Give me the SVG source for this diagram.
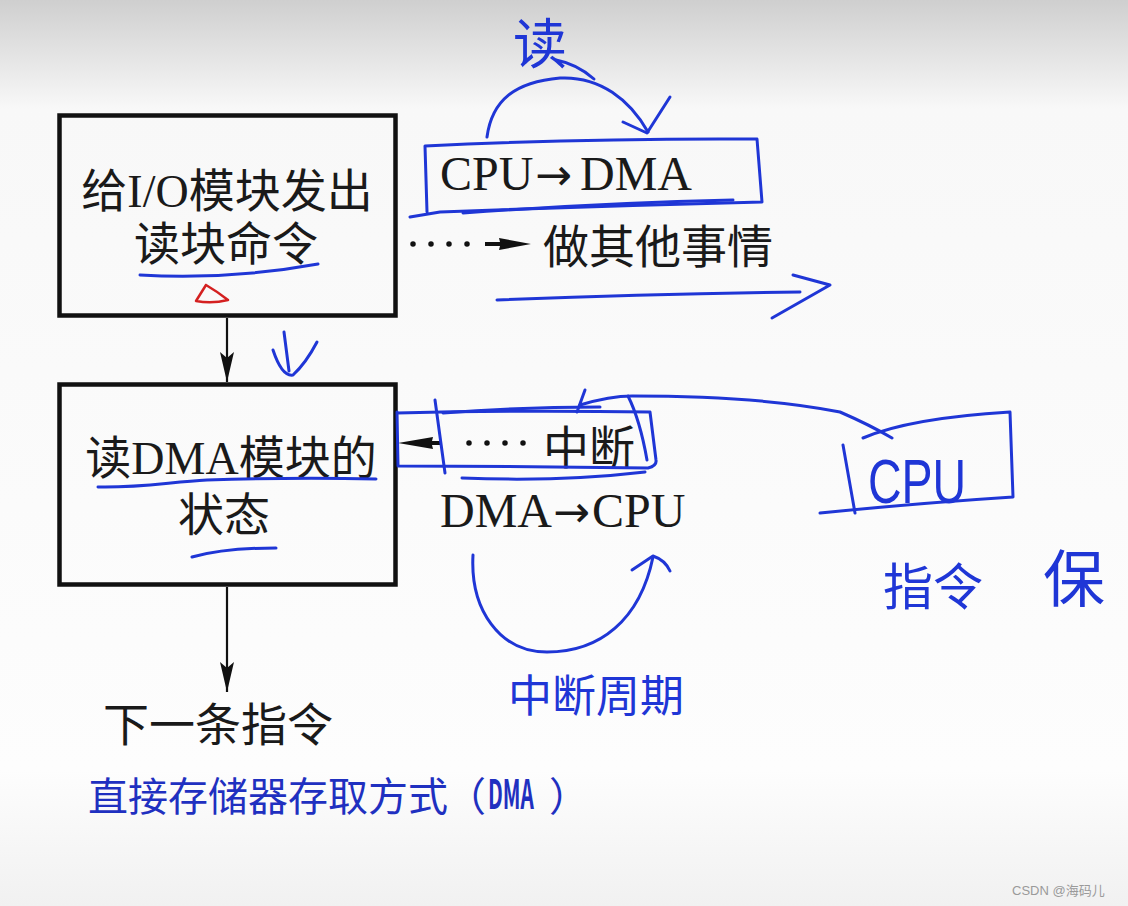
<svg xmlns="http://www.w3.org/2000/svg" width="1128" height="906" viewBox="0 0 1128 906">
<defs>
<linearGradient id="bg" x1="0" y1="0" x2="0" y2="1">
<stop offset="0" stop-color="#cfcfcf"/>
<stop offset="0.12" stop-color="#f8f8f8"/>
<stop offset="0.85" stop-color="#fdfdfd"/>
<stop offset="1" stop-color="#f1f1f1"/>
</linearGradient>
<marker id="arr" viewBox="0 0 30 14" refX="30" refY="7" markerWidth="30" markerHeight="14" markerUnits="userSpaceOnUse" orient="auto">
<path d="M0,0 L30,7 L0,14 L6,7 Z" fill="#111"/>
</marker>
<style>
.box{fill:none;stroke:#111;stroke-width:4.5}
.t{font-family:"Liberation Serif","Noto Sans CJK SC",serif;font-size:46px;fill:#1a1a1a}
.lat{font-family:"Liberation Serif",serif;font-size:48px;fill:#1a1a1a}
.ar{font-family:"DejaVu Sans",sans-serif;font-size:44px}
.line{fill:none;stroke:#111;stroke-width:2.2}
.head{fill:#111}
.dots{fill:none;stroke:#111;stroke-width:5.5;stroke-linecap:round;stroke-dasharray:0 18}
.ink{fill:none;stroke:#1f36d6;stroke-width:3;stroke-linecap:round;stroke-linejoin:round}
.red{fill:none;stroke:#d42020;stroke-width:2.5;stroke-linecap:round;stroke-linejoin:round}
.hw{font-family:"Noto Sans CJK SC",sans-serif;fill:#1f36d6}
.hwl{font-family:"Liberation Sans",sans-serif;fill:#1f36d6}
.title{font-family:"Noto Sans CJK SC",sans-serif;font-size:40px;fill:#1f30c0}
.wm{font-family:"Liberation Sans","Noto Sans CJK SC",sans-serif;font-size:13px;fill:#9a9a9a}
</style>
</defs>
<rect x="0" y="0" width="1128" height="906" fill="url(#bg)"/>

<g id="node-issue">
<rect class="box" x="59.5" y="115.5" width="336" height="200"/>
<text class="t" x="227" y="207" text-anchor="middle">给I/O模块发出</text>
<text class="t" x="226" y="260" text-anchor="middle">读块命令</text>
</g>

<g id="node-read-status">
<rect class="box" x="59.5" y="384.5" width="336" height="200"/>
<text class="t" x="231" y="474" text-anchor="middle">读DMA模块的</text>
<text class="t" x="224" y="531" text-anchor="middle">状态</text>
</g>

<g id="node-next">
<text class="t" x="218" y="741" text-anchor="middle">下一条指令</text>
</g>

<g id="node-other">
<text class="t" x="543" y="263">做其他事情</text>
</g>

<g id="node-cpu-dma">
<text class="lat" y="190"><tspan x="440">CPU</tspan><tspan class="ar" x="535">→</tspan><tspan x="580">DMA</tspan></text>
</g>

<g id="node-interrupt">
<text class="t" x="543" y="464">中断</text>
</g>

<g id="node-dma-cpu">
<text class="lat" y="527"><tspan x="440">DMA</tspan><tspan class="ar" x="553">→</tspan><tspan x="592">CPU</tspan></text>
</g>

<g id="connectors">
<line class="line" x1="227" y1="318" x2="227" y2="382" marker-end="url(#arr)"/>
<line class="line" x1="227" y1="587" x2="227" y2="692" marker-end="url(#arr)"/>
<line class="dots" x1="413" y1="244" x2="485" y2="244"/>
<path class="head" d="M485,242 L500,242 L499,238 L531,244 L499,250 L500,246 L485,246 Z"/>
<line class="dots" x1="523" y1="443" x2="451" y2="443"/>
<path class="head" d="M442,441 L432,441 L433,437 L398,443 L433,449 L432,445 L442,445 Z"/>
</g>

<g id="title">
<text class="title" x="88" y="811">直接存储器存取方式</text>
<text class="title" x="446" y="811">（</text>
<text class="title" font-family="Liberation Sans, sans-serif" font-size="50" font-weight="bold" transform="translate(488,809) scale(0.52,1)">DMA</text>
<text class="title" x="549" y="811">）</text>
</g>

<g id="annotations">
<path class="ink" d="M487,137 C492,100 515,82 560,78 C600,76 630,100 648,132"/>
<path class="ink" d="M623,122 L647,133 L670,97"/>
<path class="ink" d="M556,60 Q577,64 594,79"/>
<text class="hw" x="540" y="64" font-size="54" text-anchor="middle">读</text>
<path class="ink" d="M427,212 L425,146 Q590,138 757,139 L762,202 Q600,206 440,212 L410,217"/>
<path class="ink" d="M463,213 Q600,203 733,200"/>
<path class="ink" d="M497,300 Q650,294 800,292"/>
<path class="ink" d="M793,275 L830,285 L772,318"/>
<path class="ink" d="M140,275 Q230,280 318,264"/>
<path class="red" d="M206,285 L196,301 Q212,304 228,300 Q218,292 206,285"/>
<path class="ink" d="M284,332 L289,371"/>
<path class="ink" d="M273,350 Q282,377 293,375 Q306,363 317,342"/>
<path class="ink" d="M98,487 C140,488 170,482 207,480 C270,478 330,478 376,479"/>
<path class="ink" d="M192,557 Q225,548 276,548"/>
<path class="ink" d="M397,412 L398,466 Q520,466 648,468 Q657,466 656,460 L650,412 Q520,410 397,413"/>
<path class="ink" d="M435,400 L445,473"/>
<path class="ink" d="M462,478 Q560,482 645,472"/>
<path class="ink" d="M443,413 Q520,407 600,407"/>
<path class="ink" d="M628,396 Q640,420 647,460"/>
<path class="ink" d="M585,390 L577,412"/>
<path class="ink" d="M580,405 Q610,396 632,396 Q760,396 840,412 Q870,425 892,438"/>
<path class="ink" d="M843,445 L855,513"/>
<path class="ink" d="M863,438 Q910,418 1010,412 L1013,497 Q920,503 820,513"/>
<text class="hwl" font-size="62" transform="translate(868,503) scale(0.75,1)">CPU</text>
<path class="ink" d="M473,555 C470,610 500,652 547,652 C600,652 640,620 653,557"/>
<path class="ink" d="M632,570 L653,556 Q665,560 670,571"/>
<text class="hw" x="508" y="712" font-size="44">中断周期</text>
<text class="hw" x="883" y="605" font-size="50">指令</text>
<text class="hw" x="1043" y="602" font-size="62">保</text>
</g>

<g id="watermark">
<text class="wm" x="1012" y="895">CSDN @海码儿</text>
</g>
</svg>
